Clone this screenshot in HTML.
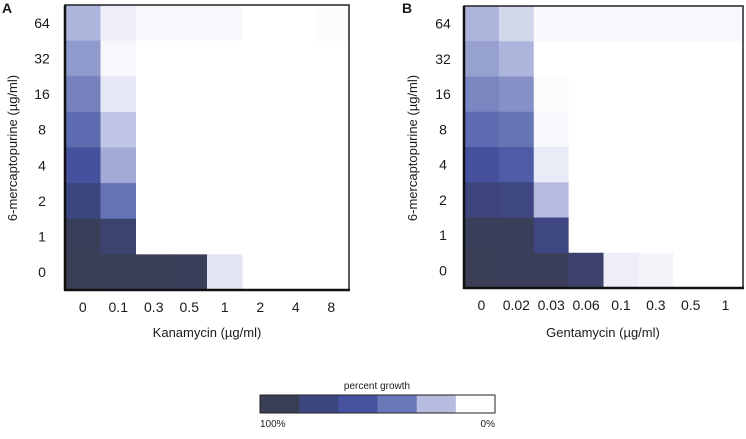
<!DOCTYPE html>
<html><head><meta charset="utf-8"><style>
body{margin:0;background:#fff;}
svg text{font-family:"Liberation Sans",Arial,sans-serif;fill:#1a1a1a;}
</style></head><body>
<svg id="svg" width="746" height="434">
<text x="2" y="13" font-size="14" font-weight="bold">A</text>
<text x="402" y="13" font-size="14" font-weight="bold">B</text>
<g id="pa"></g>
<g id="pb"></g>
<text x="207" y="337" font-size="13" text-anchor="middle">Kanamycin (µg/ml)</text>
<text x="603" y="337" font-size="13" text-anchor="middle">Gentamycin (µg/ml)</text>
<text transform="translate(17,148) rotate(-90)" font-size="13" text-anchor="middle">6-mercaptopurine (µg/ml)</text>
<text transform="translate(417,148) rotate(-90)" font-size="13" text-anchor="middle">6-mercaptopurine (µg/ml)</text>
<g id="cb"></g>
<text x="377" y="389" font-size="10" text-anchor="middle">percent growth</text>
<text x="260" y="427" font-size="10">100%</text>
<text x="495" y="427" font-size="10" text-anchor="end">0%</text>
</svg>
<script>
const rowLabels=["64","32","16","8","4","2","1","0"];
const kanLabels=["0","0.1","0.3","0.5","1","2","4","8"];
const genLabels=["0","0.02","0.03","0.06","0.1","0.3","0.5","1"];
const kanGrowth=[
[22,5,2,2,2,0,0,1],
[30,2,0,0,0,0,0,0],
[37,7,0,0,0,0,0,0],
[47,17,0,0,0,0,0,0],
[62,25,0,0,0,0,0,0],
[80,43,0,0,0,0,0,0],
[98,88,0,0,0,0,0,0],
[100,99,99,98,8,0,0,0]];
const genGrowth=[
[22,12,2,2,2,2,2,2],
[28,22,0,0,0,0,0,0],
[36,33,1,0,0,0,0,0],
[47,42,2,0,0,0,0,0],
[62,55,6,0,0,0,0,0],
[82,78,20,0,0,0,0,0],
[98,98,78,0,0,0,0,0],
[100,97,97,90,5,3,0,0]];
const cbValues=[100,80,60,40,20,0];
const stops=[[100,[58,62,85]],[80,[62,70,128]],[60,[70,82,160]],[40,[106,120,184]],[20,[181,188,224]],[0,[255,255,255]]];
function color(v){
  for(let i=0;i<stops.length-1;i++){
    const a=stops[i],b=stops[i+1];
    if(v<=a[0]&&v>=b[0]){const t=(a[0]-v)/(a[0]-b[0]);
      const c=a[1].map((x,k)=>Math.round(x+(b[1][k]-x)*t));return `rgb(${c})`;}
  }
  return v>100?`rgb(${stops[0][1]})`:'#fff';
}
const NS="http://www.w3.org/2000/svg";
function mk(p,tag,at){const e=document.createElementNS(NS,tag);for(const k in at)e.setAttribute(k,at[k]);p.appendChild(e);return e;}
function panel(g,x0,x1,y0,y1,data,xl,yoff){
  const cw=(x1-x0)/xl.length,ch=(y1-y0)/rowLabels.length;
  const xs=i=>x0+i*cw, ys=j=>y0+j*ch;
  data.forEach((row,j)=>row.forEach((v,i)=>{
    const r=mk(g,'rect',{x:xs(i),y:ys(j),width:cw+0.5,height:ch+0.5,fill:color(v)});
    
    
  }));
  const f=mk(g,'rect',{x:x0,y:y0,width:x1-x0,height:y1-y0,fill:'none',stroke:'#222','stroke-width':1.5});
  
  
  mk(g,'line',{x1:x0,y1:y0,x2:x0,y2:y1+1,stroke:'#111','stroke-width':2.5});
  mk(g,'line',{x1:x0-1,y1:y1,x2:x1+1,y2:y1,stroke:'#111','stroke-width':2.5});
  rowLabels.forEach((l,j)=>{const t=mk(g,'text',{x:x0-yoff,y:ys(j)+ch/2+5,'font-size':14,'text-anchor':'middle'});t.textContent=l;
    
    });
  xl.forEach((l,i)=>{const t=mk(g,'text',{x:xs(i)+cw/2,y:y1+22,'font-size':14,'text-anchor':'middle'});t.textContent=l;
    
    });
}
panel(document.getElementById('pa'),65,349,5,290,kanGrowth,kanLabels,23);
panel(document.getElementById('pb'),464,743,6,288,genGrowth,genLabels,21);
const cb=document.getElementById('cb');const cw=(495-260)/cbValues.length;
cbValues.forEach((v,i)=>{const r=mk(cb,'rect',{x:260+i*cw,y:395,width:cw+0.5,height:18,fill:color(v)});
  
  });
mk(cb,'rect',{x:260,y:395,width:235,height:18,fill:'none',stroke:'#222','stroke-width':1});
</script>
</body></html>
